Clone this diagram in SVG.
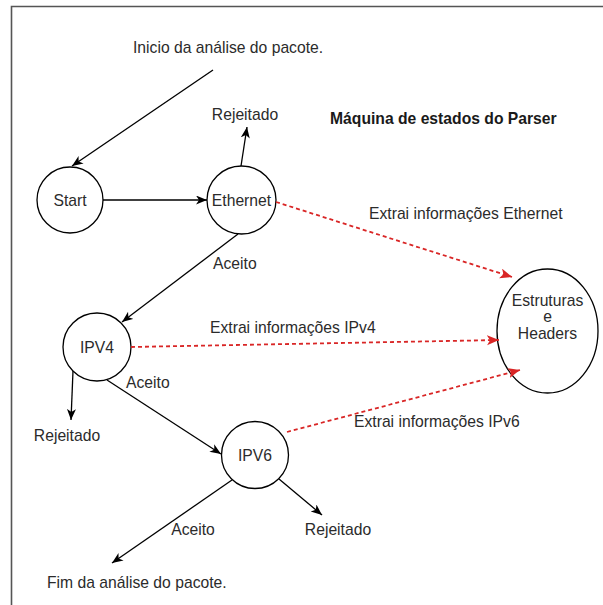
<svg xmlns="http://www.w3.org/2000/svg" width="603" height="605" viewBox="0 0 603 605">
  <style>
    .lbl { font-family: "Liberation Sans", Arial, sans-serif; font-size: 15.7px; fill: #2b2b2b; }
    .mid { text-anchor: middle; }
    .title { font-weight: bold; fill: #1a1a1a; }
    .state { fill: #ffffff; stroke: #000000; stroke-width: 1.3; }
    .edge { fill: none; stroke: #000000; stroke-width: 1.3; }
    .extract { fill: none; stroke: #d92626; stroke-width: 1.8; stroke-dasharray: 4 3; }
    .frame { stroke: #555555; stroke-width: 1.6; fill: none; }
  </style>
  <defs>
    <marker id="arrow" markerUnits="userSpaceOnUse" markerWidth="12" markerHeight="10" refX="11" refY="4.5" orient="auto">
      <path d="M0,0 L11,4.5 L0,9 L3,4.5 Z" fill="#000000"/>
    </marker>
    <marker id="arrowRed" markerUnits="userSpaceOnUse" markerWidth="13" markerHeight="11" refX="12" refY="5" orient="auto">
      <path d="M0,0 L12,5 L0,10 L3,5 Z" fill="#d92626"/>
    </marker>
  </defs>

  <rect width="603" height="605" fill="#ffffff"/>
  <path class="frame" d="M11.5,605 L11.5,6.5 L603,6.5"/>

  <!-- states -->
  <g id="start">
    <circle class="state" cx="70" cy="200" r="33"/>
    <text class="lbl mid" x="70" y="205.5">Start</text>
  </g>
  <g id="ethernet">
    <ellipse class="state" cx="241.5" cy="200" rx="34.5" ry="34"/>
    <text class="lbl mid" x="241.5" y="205.5">Ethernet</text>
  </g>
  <g id="ipv4">
    <circle class="state" cx="97" cy="347" r="34"/>
    <text class="lbl mid" x="97" y="352.5">IPV4</text>
  </g>
  <g id="ipv6">
    <circle class="state" cx="255" cy="455" r="33.5"/>
    <text class="lbl mid" x="255" y="460.5">IPV6</text>
  </g>
  <g id="estruturas">
    <ellipse class="state" cx="547.5" cy="331" rx="50.5" ry="62"/>
    <text class="lbl mid" x="547.5" y="305.5">Estruturas</text>
    <text class="lbl mid" x="547.5" y="322">e</text>
    <text class="lbl mid" x="547.5" y="338.5">Headers</text>
  </g>

  <!-- transitions -->
  <g id="connectors">
    <line class="edge" x1="213" y1="70" x2="72" y2="166" marker-end="url(#arrow)"/>
    <line class="edge" x1="103" y1="200" x2="207" y2="200" marker-end="url(#arrow)"/>
    <line class="edge" x1="241" y1="166" x2="247" y2="127" marker-end="url(#arrow)"/>
    <line class="edge" x1="238" y1="234" x2="122" y2="322" marker-end="url(#arrow)"/>
    <line class="edge" x1="73" y1="371" x2="71" y2="420" marker-end="url(#arrow)"/>
    <line class="edge" x1="107" y1="380" x2="221" y2="454" marker-end="url(#arrow)"/>
    <line class="edge" x1="232" y1="480" x2="112" y2="563" marker-end="url(#arrow)"/>
    <line class="edge" x1="279" y1="479" x2="322" y2="515" marker-end="url(#arrow)"/>
    <line class="extract" x1="276" y1="202" x2="512" y2="277" marker-end="url(#arrowRed)"/>
    <line class="extract" x1="131" y1="347" x2="499" y2="340" marker-end="url(#arrowRed)"/>
    <line class="extract" x1="287" y1="432" x2="520" y2="370" marker-end="url(#arrowRed)"/>
  </g>

  <!-- edge labels and notes -->
  <g id="labels">
    <text class="lbl" x="133" y="52.5">Inicio da análise do pacote.</text>
    <text class="lbl mid" x="245" y="119.5">Rejeitado</text>
    <text class="lbl title" x="330" y="124">Máquina de estados do Parser</text>
    <text class="lbl" x="369" y="219">Extrai informações Ethernet</text>
    <text class="lbl" x="213" y="268.5">Aceito</text>
    <text class="lbl" x="210" y="332.5">Extrai informações IPv4</text>
    <text class="lbl" x="126" y="387.5">Aceito</text>
    <text class="lbl" x="354" y="426.5">Extrai informações IPv6</text>
    <text class="lbl mid" x="67" y="440.5">Rejeitado</text>
    <text class="lbl mid" x="193" y="535">Aceito</text>
    <text class="lbl mid" x="338" y="535">Rejeitado</text>
    <text class="lbl" x="47" y="587.5">Fim da análise do pacote.</text>
  </g>
</svg>
